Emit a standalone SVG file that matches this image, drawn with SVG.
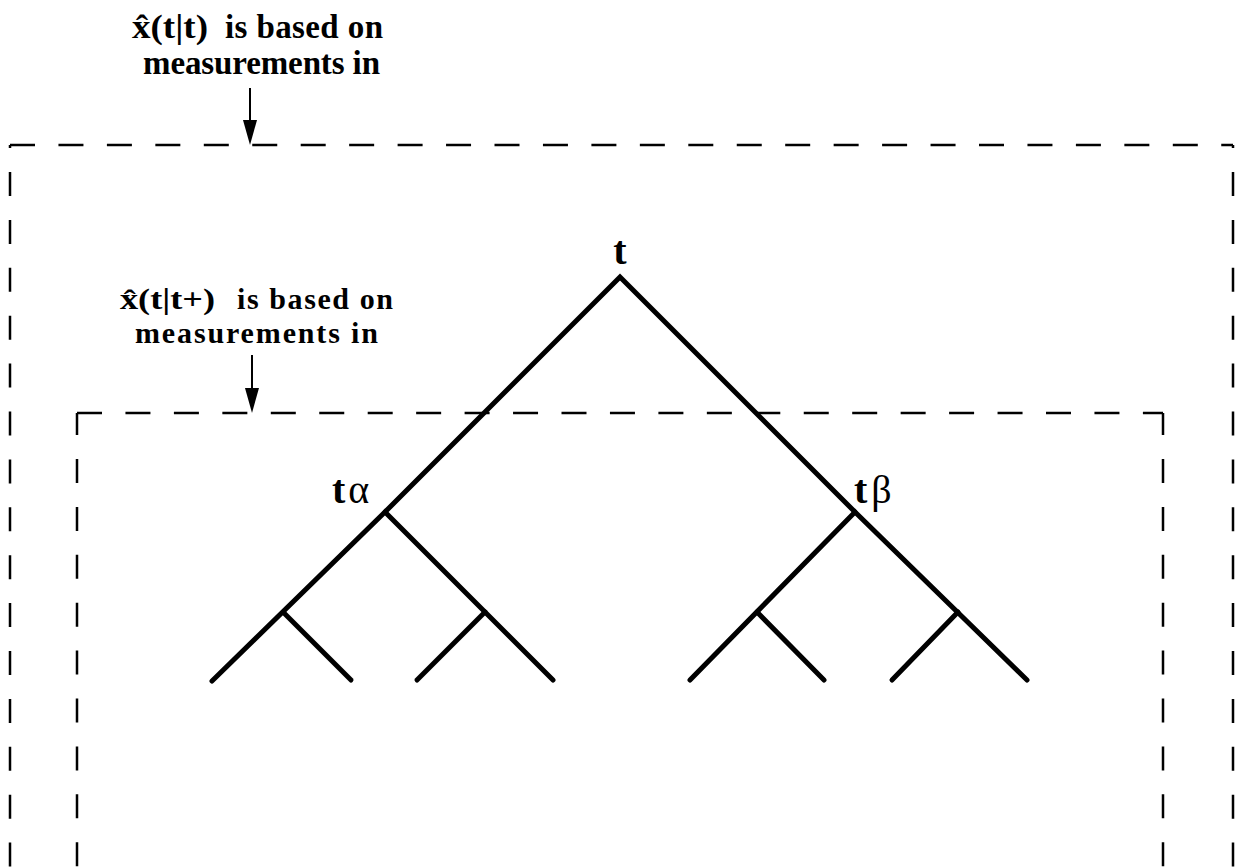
<svg xmlns="http://www.w3.org/2000/svg" width="1236" height="867" viewBox="0 0 1236 867">
<style>
.lbl{font-family:"Liberation Serif","Times New Roman",serif;font-weight:bold;font-size:33px;fill:#000}
.lbl2{font-size:30px}
.node{font-family:"Liberation Serif","Times New Roman",serif;font-weight:bold;font-size:40px;fill:#000}
.greek{font-weight:normal}
.edge{stroke:#000;stroke-width:5;stroke-linecap:round;fill:none}
.hd{stroke:#000;stroke-width:2.5;fill:none;stroke-dasharray:25 23.45}
.vd{stroke:#000;stroke-width:2.5;fill:none;stroke-dasharray:24 23.9}
.arr{stroke:#000;stroke-width:2;fill:none}
</style>
<rect width="1236" height="867" fill="#fff"/>
<g id="outer-box">
<path class="hd" d="M10,145 H1233"/>
<path class="vd" d="M10,145 V867" stroke-dashoffset="20.9"/>
<path class="vd" d="M1233,145 V867" stroke-dashoffset="20.9"/>
</g>
<g id="inner-box">
<path class="hd" d="M77,413 H1163"/>
<path class="vd" d="M77,413 V867" stroke-dashoffset="1.9"/>
<path class="vd" d="M1163,413 V867" stroke-dashoffset="1.9"/>
</g>
<g id="label-tt">
<text class="lbl" y="38"><tspan x="132" textLength="76" lengthAdjust="spacingAndGlyphs">x̂(t|t)</tspan><tspan x="225" textLength="158" lengthAdjust="spacing">is based on</tspan></text>
<text class="lbl" x="143" y="74" textLength="237" lengthAdjust="spacing">measurements in</text>
<line class="arr" x1="250" y1="88" x2="250" y2="125"/>
<polygon points="243,120 257,120 250,145" fill="#000"/>
</g>
<g id="label-ttplus">
<text class="lbl lbl2" y="309"><tspan x="120" textLength="95" lengthAdjust="spacingAndGlyphs">x̂(t|t+)</tspan><tspan x="237" textLength="156" lengthAdjust="spacing">is based on</tspan></text>
<text class="lbl lbl2" x="135" y="343" textLength="243" lengthAdjust="spacing">measurements in</text>
<line class="arr" x1="252" y1="355" x2="252" y2="393"/>
<polygon points="245,388 259,388 252,413" fill="#000"/>
</g>
<g id="connectors">
<path class="edge" d="M385,512 L620,277 L855,512"/>
<path class="edge" d="M212,681 L385,512 L553,680"/>
<path class="edge" d="M284,613 L351,680"/>
<path class="edge" d="M485,612 L417,680"/>
<path class="edge" d="M690,680 L855,512 L1027,680"/>
<path class="edge" d="M757,612 L824,680"/>
<path class="edge" d="M958,612 L892,680"/>
</g>
<g id="node-t"><text class="node" x="620" y="264" text-anchor="middle">t</text></g>
<g id="node-talpha"><text class="node" x="332" y="503">t<tspan class="greek" dx="3">α</tspan></text></g>
<g id="node-tbeta"><text class="node" x="854" y="503">t<tspan class="greek" dx="4">β</tspan></text></g>
</svg>
